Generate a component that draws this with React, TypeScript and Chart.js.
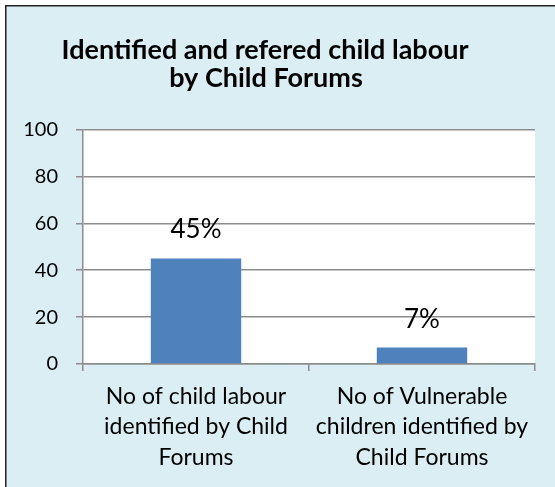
import React, { useEffect, useRef } from "react";
import { Chart, registerables } from "chart.js";

Chart.register(...registerables);

const titleLines = ["Identified and refered child labour", "by Child Forums"];
const categories = [
  ["No of child labour", "identified by Child", "Forums"],
  ["No of Vulnerable", "children identified by", "Child Forums"],
];
const values = [45, 7];
const yMin = 0;
const yMax = 100;
const yStep = 20;

const FONT = "Lato, 'Open Sans', sans-serif";
const BG = "#DBEEF4";
const GRID = "#8c8c8c";

export default function App() {
  const ref = useRef<HTMLCanvasElement | null>(null);

  useEffect(() => {
    const canvas = ref.current;
    if (!canvas) return;

    const backgroundPlugin = {
      id: "bg",
      beforeDraw(chart: any) {
        const { ctx, width, height, chartArea } = chart;
        ctx.save();
        ctx.fillStyle = "#ffffff";
        ctx.fillRect(0, 0, width, height);
        ctx.fillStyle = BG;
        ctx.fillRect(5, 5, width - 5, height - 5);
        ctx.fillStyle = "#222";
        ctx.fillRect(5, 5, width - 5, 1.5);
        ctx.fillRect(5, 5, 1.5, height - 5);
        ctx.fillStyle = "#ffffff";
        ctx.fillRect(
          chartArea.left,
          chartArea.top,
          chartArea.right - chartArea.left,
          chartArea.bottom - chartArea.top
        );
        ctx.restore();
      },
    };

    const titlePlugin = {
      id: "customTitle",
      afterDraw(chart: any) {
        const { ctx } = chart;
        ctx.save();
        ctx.fillStyle = "#000";
        ctx.textAlign = "center";
        ctx.textBaseline = "alphabetic";
        ctx.font = `bold 27px ${FONT}`;
        ctx.fillText(titleLines[0], 265, 59);
        ctx.fillText(titleLines[1], 266, 87);
        ctx.restore();
      },
    };

    const labelPlugin = {
      id: "valueLabels",
      afterDatasetsDraw(chart: any) {
        const { ctx } = chart;
        const meta = chart.getDatasetMeta(0);
        ctx.save();
        ctx.fillStyle = "#000";
        ctx.textAlign = "center";
        ctx.textBaseline = "alphabetic";
        ctx.font = `26px ${FONT}`;
        meta.data.forEach((bar: any, i: number) => {
          ctx.fillText(`${values[i]}%`, bar.x, bar.y - 20);
        });
        ctx.restore();
      },
    };

    const chart = new Chart(canvas, {
      type: "bar",
      data: {
        labels: categories,
        datasets: [
          {
            data: values,
            backgroundColor: "#4F81BD",
            borderWidth: 0,
            categoryPercentage: 1,
            barPercentage: 0.4,
          },
        ],
      },
      options: {
        animation: false,
        responsive: false,
        devicePixelRatio: 1,
        layout: { padding: { top: 129.5, right: 20, left: 0, bottom: 0 } },
        plugins: {
          legend: { display: false },
          title: { display: false },
          tooltip: { enabled: false },
        },
        scales: {
          x: {
            afterFit(scale: any) {
              scale.height = 123;
            },
            grid: {
              offset: true,
              drawOnChartArea: false,
              drawTicks: true,
              tickLength: 7,
              color: GRID,
              lineWidth: 1.5,
            },
            border: { display: true, color: GRID, width: 1.5 },
            ticks: {
              color: "#000",
              font: { family: FONT, size: 23, lineHeight: 1.33 },
              padding: 10,
              maxRotation: 0,
              autoSkip: false,
            },
          },
          y: {
            min: yMin,
            max: yMax,
            afterFit(scale: any) {
              scale.width = 83;
            },
            grid: {
              color: GRID,
              lineWidth: 1.5,
              drawTicks: true,
              tickLength: 7,
            },
            border: { display: true, color: GRID, width: 1.5 },
            ticks: {
              stepSize: yStep,
              color: "#000",
              font: { family: FONT, size: 20 },
              padding: 18,
            },
          },
        },
      },
      plugins: [backgroundPlugin, titlePlugin, labelPlugin],
    });

    return () => chart.destroy();
  }, []);

  return (
    <div style={{ position: "fixed", left: 0, top: 0, width: 555, height: 487 }}>
      <canvas ref={ref} width={555} height={487} style={{ display: "block", width: 555, height: 487 }} />
    </div>
  );
}
